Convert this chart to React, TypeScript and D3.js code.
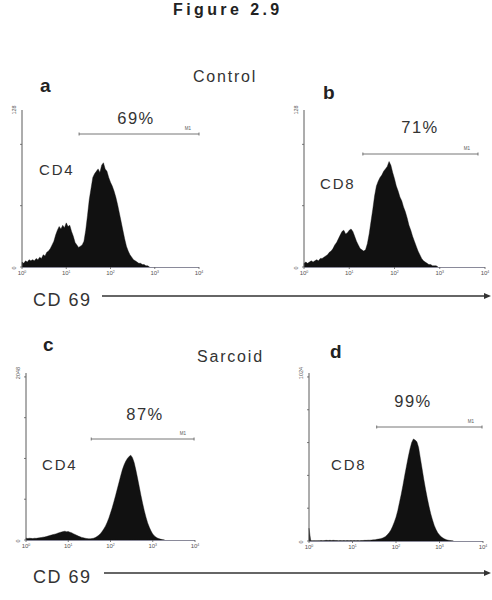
import React from 'react';
import * as d3 from 'd3';

// channel width in decades (log10 units); channel i sits at 10^(i*STEP)
const STEP = 0.04;

const decadeTicks = [1, 10, 100, 1000, 10000];
const tickExponents = ['0', '1', '2', '3', '4'];

// Control CD4 (max 128)
const histA = [
  4, 3, 5, 4, 6, 5, 6, 5, 7, 6, 8, 7, 10, 9, 12, 13, 15, 18, 21, 26,
  30, 33, 31, 34, 32, 36, 33, 34, 29, 25, 20, 18, 16, 17, 18, 21, 30, 42, 55, 64,
  73, 76, 78, 80, 77, 83, 85, 80, 78, 73, 69, 66, 62, 57, 51, 44, 37, 30, 23, 17,
  13, 10, 8, 6, 5, 4, 3, 3, 2, 2, 1, 1, 0,
];
// Control CD8 (max 128)
const histB = [
  3, 4, 3, 4, 5, 4, 5, 6, 5, 7, 7, 8, 9, 10, 12, 13, 15, 18, 20, 23,
  26, 29, 30, 27, 28, 30, 31, 29, 25, 21, 18, 15, 14, 13, 14, 19, 27, 37, 47, 58,
  66, 70, 73, 75, 78, 80, 82, 86, 83, 77, 72, 66, 62, 57, 54, 49, 45, 40, 34, 30,
  25, 21, 17, 13, 10, 7, 5, 4, 3, 2, 2, 1, 1, 1, 0,
];
// Sarcoid CD4 (max 2048)
const histC = [
  25, 18, 22, 20, 17, 22, 20, 24, 28, 30, 35, 38, 42, 48, 55, 60, 66, 72, 78, 85,
  92, 98, 104, 108, 102, 105, 96, 88, 78, 68, 58, 48, 40, 32, 27, 22, 18, 16, 15, 18,
  22, 30, 42, 58, 78, 104, 135, 170, 215, 268, 330, 395, 470, 545, 625, 705, 785, 860, 920, 965,
  1000, 1025, 1040, 1010, 950, 860, 760, 655, 550, 450, 360, 280, 210, 155, 110, 75, 50, 34, 22, 14,
  8, 4, 0,
];
// Sarcoid CD8 (max 1024)
const histD = [
  78, 2, 1, 2, 1, 2, 2, 3, 2, 3, 4, 3, 4, 3, 4, 3, 3, 2, 3, 2,
  3, 2, 3, 2, 3, 2, 3, 2, 3, 2, 3, 3, 4, 4, 5, 5, 6, 7, 8, 10,
  12, 14, 17, 22, 28, 38, 50, 66, 88, 115, 145, 185, 235, 285, 340, 400, 455, 510, 560, 600,
  622, 615, 605, 570, 505, 440, 375, 315, 260, 210, 165, 128, 95, 70, 50, 36, 26, 18, 12, 8,
  5, 3, 2, 0,
];

const yMaxes = [128, 128, 2048, 1024];
const panelLetters = ['a', 'b', 'c', 'd'];
const cellLabels = ['CD4', 'CD8', 'CD4', 'CD8'];
const percents = ['69%', '71%', '87%', '99%'];
// M1 gate limits (fluorescence)
const gateStart = [19.5, 20, 35, 36];
const gateEnd = [10000, 7000, 9500, 9500];
const groupLabels = ['Control', 'Sarcoid'];
const axisLabel = 'CD 69';
const titleText = 'Figure 2.9';

const hists = [histA, histB, histC, histD];

// layout boxes (pixels)
const boxes = [
  { x0: 22, x1: 199, top: 110, base: 267, letter: [40, 92], pct: [136, 124], cell: [39, 175], gateY: 134 },
  { x0: 304, x1: 485, top: 110, base: 267, letter: [323, 99], pct: [420, 133], cell: [320, 189], gateY: 154 },
  { x0: 26, x1: 195, top: 373, base: 540, letter: [43, 351], pct: [145, 420], cell: [42, 470], gateY: 439 },
  { x0: 309, x1: 483, top: 373, base: 541, letter: [330, 358], pct: [413, 407], cell: [331, 470], gateY: 427 },
];

const FONT = '"Liberation Sans", Arial, Helvetica, sans-serif';
const AXIS = '#5a5a5a';

function Panel({ i }: { i: number }) {
  const b = boxes[i];
  const x = d3.scaleLog().domain([1, 10000]).range([b.x0, b.x1]);
  const y = d3.scaleLinear().domain([0, yMaxes[i]]).range([b.base, b.top]);
  const data = hists[i].map((c, k) => ({ v: Math.pow(10, k * STEP), c }));
  const area = d3
    .area<{ v: number; c: number }>()
    .x((d) => x(d.v))
    .y0(b.base)
    .y1((d) => y(d.c))
    .curve(d3.curveLinear);
  const yTicks = y.ticks(4);
  const gx0 = x(gateStart[i]);
  const gx1 = x(gateEnd[i]);
  return (
    <g>
      <path d={area(data) || ''} fill="#111" stroke="#111" strokeWidth={0.4} />
      {/* y axis */}
      <line x1={b.x0} x2={b.x0} y1={b.top} y2={b.base} stroke={AXIS} strokeWidth={1} />
      {yTicks.map((t) => (
        <line key={t} x1={b.x0 - 2} x2={b.x0} y1={y(t)} y2={y(t)} stroke={AXIS} strokeWidth={0.8} />
      ))}
      <text
        transform={`translate(${b.x0 - 6},${b.top}) rotate(-90)`}
        textAnchor="middle"
        fontSize={5.5}
        fill="#555"
        fontFamily={FONT}
      >
        {yMaxes[i]}
      </text>
      <text
        transform={`translate(${b.x0 - 6},${b.base + 1}) rotate(-90)`}
        textAnchor="middle"
        fontSize={5.5}
        fill="#555"
        fontFamily={FONT}
      >
        0
      </text>
      {/* x axis */}
      <line x1={b.x0} x2={b.x1} y1={b.base + 0.5} y2={b.base + 0.5} stroke="#8a8a9a" strokeWidth={1} />
      {decadeTicks.map((t, k) => (
        <g key={t}>
          <line x1={x(t)} x2={x(t)} y1={b.base} y2={b.base + 2} stroke={AXIS} strokeWidth={0.8} />
          <text x={x(t)} y={b.base + 8} textAnchor="middle" fontSize={6} fill="#555" fontFamily={FONT}>
            10
            <tspan fontSize={3.5} dy={-2.5}>
              {tickExponents[k]}
            </tspan>
          </text>
        </g>
      ))}
      {/* gate M1 */}
      <line x1={gx0} x2={gx1} y1={b.gateY} y2={b.gateY} stroke="#666" strokeWidth={0.9} />
      <line x1={gx0} x2={gx0} y1={b.gateY - 1.5} y2={b.gateY + 1.5} stroke="#666" strokeWidth={0.9} />
      <line x1={gx1} x2={gx1} y1={b.gateY - 1.5} y2={b.gateY + 1.5} stroke="#666" strokeWidth={0.9} />
      <text x={gx1 - 8} y={b.gateY - 4} textAnchor="end" fontSize={4.5} fill="#555" fontFamily={FONT}>
        M1
      </text>
      {/* labels */}
      <text x={b.pct[0]} y={b.pct[1]} textAnchor="middle" fontSize={16.5} letterSpacing={1.5} fill="#333" fontFamily={FONT}>
        {percents[i]}
      </text>
      <text x={b.cell[0]} y={b.cell[1]} fontSize={15} letterSpacing={1.8} fill="#333" fontFamily={FONT}>
        {cellLabels[i]}
      </text>
      <text x={b.letter[0]} y={b.letter[1]} fontSize={19} fontWeight="bold" fill="#222" fontFamily={FONT}>
        {panelLetters[i]}
      </text>
    </g>
  );
}

function Arrow({ y, xStart }: { y: number; xStart: number }) {
  return (
    <g>
      <text x={33} y={y + 10} fontSize={18} letterSpacing={1.5} fill="#333" fontFamily={FONT}>
        {axisLabel}
      </text>
      <line x1={xStart} x2={486} y1={y} y2={y} stroke="#333" strokeWidth={1.5} />
      <path d={`M${491},${y} L${484},${y - 3} L${484},${y + 3} Z`} fill="#333" />
    </g>
  );
}

export default function App() {
  return (
    <svg
      width={492}
      height={600}
      style={{ position: 'absolute', left: 0, top: 0, background: '#fff' }}
    >
      <rect width={492} height={600} fill="#fff" />
      <text x={173} y={15} fontSize={16} fontWeight="bold" letterSpacing={3.4} fill="#222" fontFamily={FONT}>
        {titleText}
      </text>
      <text x={193} y={82} fontSize={16} letterSpacing={1.8} fill="#333" fontFamily={FONT}>
        {groupLabels[0]}
      </text>
      <text x={197} y={362} fontSize={16} letterSpacing={1.8} fill="#333" fontFamily={FONT}>
        {groupLabels[1]}
      </text>
      {[0, 1, 2, 3].map((i) => (
        <Panel key={i} i={i} />
      ))}
      <Arrow y={296} xStart={102} />
      <Arrow y={573} xStart={104} />
    </svg>
  );
}
